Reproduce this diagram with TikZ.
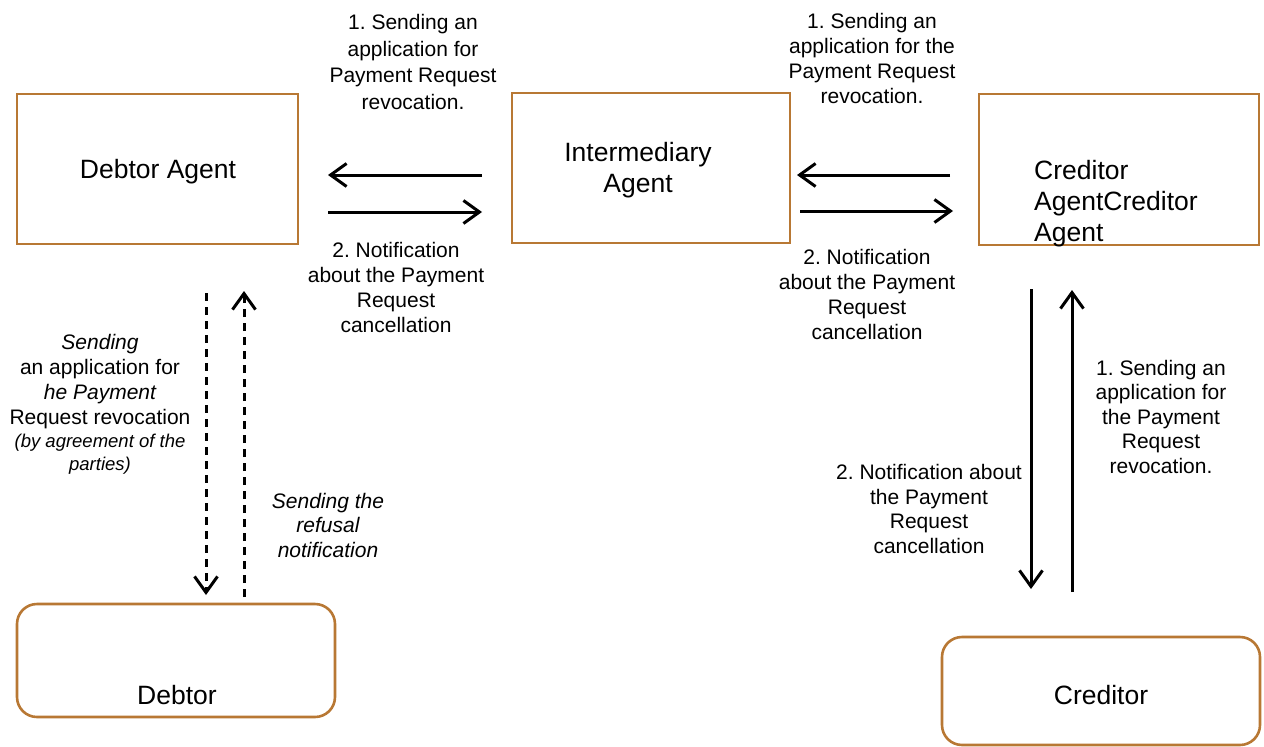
\documentclass[tikz,border=0pt]{standalone}
\usepackage{fontspec}
\setmainfont{Liberation Sans}
\usetikzlibrary{arrows.meta}
\definecolor{boxbrown}{RGB}{184,120,52}
\frenchspacing
\begin{document}
\begin{tikzpicture}[x=1pt,y=-1pt,
  boxstyle/.style={draw=boxbrown,line width=2.6pt,inner sep=0pt},
  rboxstyle/.style={boxstyle,rounded corners=20pt},
  maintxt/.style={font=\fontsize{26.5}{31}\selectfont,inner sep=0pt},
  lbl/.style={font=\fontsize{21}{25}\selectfont,align=center,inner sep=0pt},
  smalllbl/.style={font=\fontsize{18.5}{23}\selectfont\itshape,align=center,inner sep=0pt},
  conn/.style={line width=3pt,-{Straight Barb[length=16pt,width=23pt,line width=3pt]}},
  dconn/.style={conn,dash pattern=on 8pt off 6pt}]
\useasboundingbox (0,0) rectangle (1264,747);

% boxes
\node[boxstyle,minimum width=281pt,minimum height=150pt] (da) at (157.5,169) {};
\node[maintxt] (datxt) at (158,171.5) {Debtor Agent};
\node[boxstyle,minimum width=278pt,minimum height=150pt] (ia) at (651,168) {};
\node[maintxt,align=center] (iatxt) at (638,170) {Intermediary\\Agent};
\node[boxstyle,minimum width=280pt,minimum height=151pt] (ca) at (1119,169.5) {};
\node[maintxt,align=left,anchor=west] (catxt) at (1034,203.5) {Creditor\\AgentCreditor\\Agent};
\node[rboxstyle,minimum width=318pt,minimum height=113pt] (d) at (176,660.5) {};
\node[maintxt] (dtxt) at (177,695) {Debtor};
\node[rboxstyle,minimum width=318pt,minimum height=108pt] (c) at (1101,691) {};
\node[maintxt] (ctxt) at (1101,695) {Creditor};

% connector endpoints
\coordinate (a1s) at (482,175); \coordinate (a1e) at (328,175);
\coordinate (a2s) at (328,212); \coordinate (a2e) at (482,212);
\coordinate (b1s) at (950,175); \coordinate (b1e) at (797,175);
\coordinate (b2s) at (800,211); \coordinate (b2e) at (953,211);
\coordinate (l1s) at (206,293); \coordinate (l1e) at (206,595);
\coordinate (l2s) at (244,597); \coordinate (l2e) at (244,291);
\coordinate (r1s) at (1031,289); \coordinate (r1e) at (1031,589);
\coordinate (r2s) at (1072,592); \coordinate (r2e) at (1072,290);

\draw[conn] (a1s) -- (a1e);
\draw[conn] (a2s) -- (a2e);
\draw[conn] (b1s) -- (b1e);
\draw[conn] (b2s) -- (b2e);
\draw[dconn] (l1s) -- (l1e);
\draw[dconn] (l2s) -- (l2e);
\draw[conn] (r1s) -- (r1e);
\draw[conn] (r2s) -- (r2e);

% labels
\node[lbl,font=\fontsize{21}{26.5}\selectfont] (t1) at (413,62) {1. Sending an\\application for\\Payment Request\\revocation.};
\node[lbl] (t2) at (396,287) {2. Notification\\about the Payment\\Request\\cancellation};
\node[lbl] (t3) at (872,58) {1. Sending an\\application for the\\Payment Request\\revocation.};
\node[lbl] (t4) at (867,294.5) {2. Notification\\about the Payment\\Request\\cancellation};
\node[lbl] (t5) at (100,382) {\itshape Sending\\an application for\\\itshape he Payment\\Request revocation};
\node[smalllbl] (t6) at (100,454) {(by agreement of the\\parties)};
\node[lbl,font=\fontsize{21}{24.5}\selectfont\itshape] (t7) at (328,525) {Sending the\\refusal\\notification};
\node[lbl,font=\fontsize{21}{24.5}\selectfont] (t8) at (1161,416.5) {1. Sending an\\application for\\the Payment\\Request\\revocation.};
\node[lbl,font=\fontsize{21}{24.5}\selectfont] (t9) at (929,509) {2. Notification about\\the Payment\\Request\\cancellation};
\end{tikzpicture}
\end{document}
